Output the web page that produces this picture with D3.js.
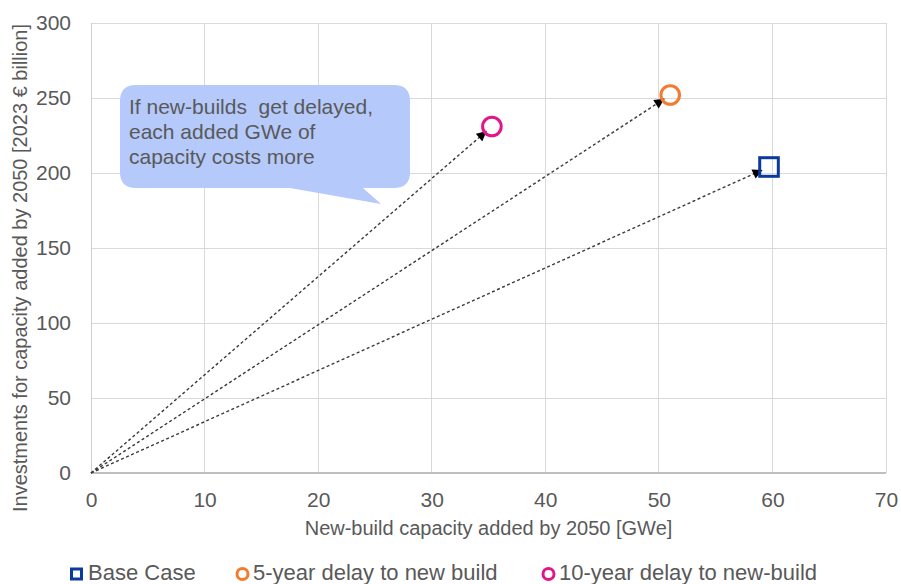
<!DOCTYPE html>
<html>
<head>
<meta charset="utf-8">
<script src="https://cdn.jsdelivr.net/npm/d3@7"></script>
<style>
  html, body { margin: 0; padding: 0; background: #fff; }
  svg { display: block; font-family: "Liberation Sans", Arial, sans-serif; }
</style>
</head>
<body>
<svg id="chart" width="901" height="584"></svg>
<script>
// ---- data ----
const scenarios = ["Base Case", "5-year delay to new build", "10-year delay to new-build"];
const capacityGWe = [59.7, 51.0, 35.3];
const investmentBn = [204, 252, 231];
const markerShapes = ["square", "circle", "circle"];
const colors = ["#0a3a9e", "#f47b2e", "#e0168d"];
const xTicks = [0, 10, 20, 30, 40, 50, 60, 70];
const yTicks = [0, 50, 100, 150, 200, 250, 300];
const xTitle = "New-build capacity added by 2050 [GWe]";
const yTitle = "Investments for capacity added by 2050 [2023 € billion]";
const calloutLines = ["If new-builds  get delayed,", "each added GWe of", "capacity costs more"];

// ---- layout ----
const svg = d3.select("#chart");
const x = d3.scaleLinear().domain([0, 70]).range([91, 886]);
const y = d3.scaleLinear().domain([0, 300]).range([473, 23]);
const textColor = "#595959";

// grid
svg.append("g").selectAll("line.v").data(xTicks.filter(d => d > 0)).join("line")
  .attr("x1", d => x(d)).attr("x2", d => x(d)).attr("y1", y(0)).attr("y2", y(300))
  .attr("stroke", "#d9d9d9").attr("stroke-width", 1).attr("shape-rendering", "crispEdges");
svg.append("g").selectAll("line.h").data(yTicks.filter(d => d > 0)).join("line")
  .attr("x1", x(0)).attr("x2", x(70)).attr("y1", d => y(d)).attr("y2", d => y(d))
  .attr("stroke", "#d9d9d9").attr("stroke-width", 1).attr("shape-rendering", "crispEdges");
// axis lines
svg.append("line").attr("x1", x(0)).attr("x2", x(0)).attr("y1", y(0)).attr("y2", y(300))
  .attr("stroke", "#d0d0d0").attr("shape-rendering", "crispEdges");
svg.append("line").attr("x1", x(0)).attr("x2", x(70)).attr("y1", y(0)).attr("y2", y(0))
  .attr("stroke", "#bfbfbf").attr("stroke-width", 1.2).attr("shape-rendering", "crispEdges");

// tick labels via d3 axes (domain & ticks hidden)
const xAxis = svg.append("g").attr("transform", `translate(0,${y(0)})`)
  .call(d3.axisBottom(x).tickValues(xTicks).tickSize(0).tickPadding(16).tickFormat(d3.format("d")));
const yAxis = svg.append("g").attr("transform", `translate(${x(0)},0)`)
  .call(d3.axisLeft(y).tickValues(yTicks).tickSize(0).tickPadding(20).tickFormat(d3.format("d")));
[xAxis, yAxis].forEach(g => {
  g.select(".domain").remove();
  g.selectAll("text").attr("fill", textColor).style("font-size", "21px")
    .style("font-family", "'Liberation Sans', Arial, sans-serif");
});
xAxis.selectAll("text").attr("dy", null).attr("y", 34);

// axis titles
svg.append("text").attr("x", (x(0) + x(70)) / 2).attr("y", 535).attr("text-anchor", "middle")
  .attr("fill", textColor).style("font-size", "20px").text(xTitle);
svg.append("text").attr("transform", "translate(27,268) rotate(-90)").attr("text-anchor", "middle")
  .attr("fill", textColor).style("font-size", "20px").text(yTitle);

// arrowhead
const defs = svg.append("defs");
defs.append("marker").attr("id", "arrow").attr("viewBox", "0 0 10 10")
  .attr("refX", 10).attr("refY", 5).attr("markerWidth", 11).attr("markerHeight", 10)
  .attr("markerUnits", "userSpaceOnUse").attr("orient", "auto")
  .append("path").attr("d", "M0,0 L10,5 L0,10 Z").attr("fill", "#000");

// dashed arrows from origin
const pts = scenarios.map((s, i) => ({ name: s, cx: capacityGWe[i], cy: investmentBn[i], shape: markerShapes[i], color: colors[i] }));
svg.append("g").selectAll("line").data(pts).join("line")
  .attr("x1", x(0)).attr("y1", y(0))
  .attr("x2", d => { const dx = x(d.cx) - x(0), dy = y(d.cy) - y(0), L = Math.hypot(dx, dy); return x(0) + dx * (L - 7) / L; })
  .attr("y2", d => { const dx = x(d.cx) - x(0), dy = y(d.cy) - y(0), L = Math.hypot(dx, dy); return y(0) + dy * (L - 7) / L; })
  .attr("stroke", "#3a3a3a").attr("stroke-width", 1.4).attr("stroke-dasharray", "3,2.5")
  .attr("marker-end", "url(#arrow)");

// markers
const mk = svg.append("g").selectAll("g").data(pts).join("g")
  .attr("transform", d => `translate(${x(d.cx)},${y(d.cy)})`);
mk.filter(d => d.shape === "circle").append("circle").attr("r", 9.3)
  .attr("fill", "none").attr("stroke", d => d.color).attr("stroke-width", 3);
mk.filter(d => d.shape === "square").append("rect").attr("x", -9.3).attr("y", -9.3)
  .attr("width", 18.6).attr("height", 18.6)
  .attr("fill", "none").attr("stroke", d => d.color).attr("stroke-width", 3);

// callout
const cb = { l: 120, t: 85, r: 410, b: 188, rad: 16 };
const tail = { x1: 290, tip: [381, 204], x2: 363 };
const cpath = `M${cb.l + cb.rad},${cb.t} H${cb.r - cb.rad} Q${cb.r},${cb.t} ${cb.r},${cb.t + cb.rad}
 V${cb.b - cb.rad} Q${cb.r},${cb.b} ${cb.r - cb.rad},${cb.b} H${tail.x2} L${tail.tip[0]},${tail.tip[1]} L${tail.x1},${cb.b}
 H${cb.l + cb.rad} Q${cb.l},${cb.b} ${cb.l},${cb.b - cb.rad} V${cb.t + cb.rad} Q${cb.l},${cb.t} ${cb.l + cb.rad},${cb.t} Z`;
svg.append("path").attr("d", cpath).attr("fill", "#b5c9fb");
svg.append("g").selectAll("text").data(calloutLines).join("text")
  .attr("x", 129).attr("y", (d, i) => 114 + i * 25)
  .attr("fill", textColor).style("font-size", "21px").style("white-space", "pre")
  .attr("xml:space", "preserve").text(d => d);

// legend
const legX = [70, 235, 541];
const lg = svg.append("g").selectAll("g").data(pts).join("g")
  .attr("transform", (d, i) => `translate(${legX[i]},574)`);
lg.filter(d => d.shape === "square").append("rect").attr("x", 1.5).attr("y", -5).attr("width", 10).attr("height", 10)
  .attr("fill", "none").attr("stroke", d => d.color).attr("stroke-width", 3);
lg.filter(d => d.shape === "circle").append("circle").attr("cx", 7.5).attr("cy", 0).attr("r", 5.5)
  .attr("fill", "none").attr("stroke", d => d.color).attr("stroke-width", 3);
lg.append("text").attr("x", 18).attr("y", 6).attr("fill", textColor)
  .style("font-size", "22px").text(d => d.name);
</script>
</body>
</html>
